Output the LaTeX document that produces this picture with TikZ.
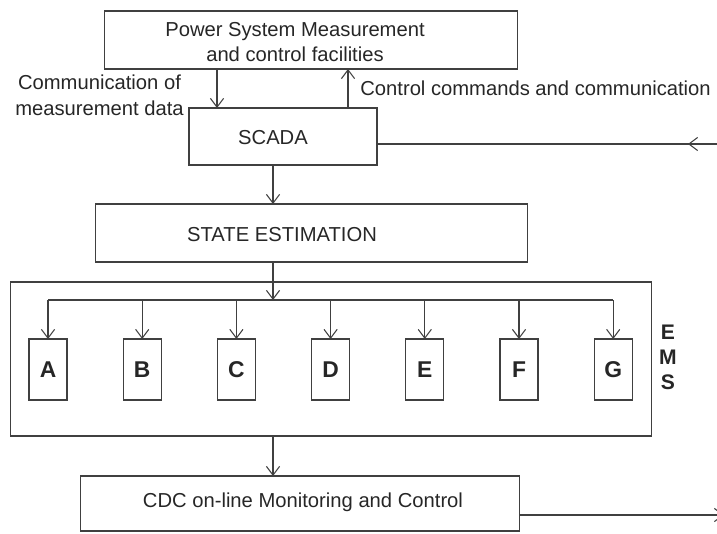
\documentclass[tikz,border=0pt]{standalone}
\usepackage{fontspec}
\setmainfont{Liberation Sans}
\usetikzlibrary{arrows.meta}
\tikzset{
  blk/.style={draw=black!75, line width=0.6pt, inner sep=0pt, outer sep=0pt},
  lbl/.style={inner sep=0pt, text=black!85, font=\fontsize{11.5}{14.5}\selectfont, align=center},
  wire/.style={draw=black!75, line width=0.6pt},
  arr/.style={wire, -{Straight Barb[length=5pt,width=7.5pt]}}
}
\newcommand{\cellbox}[5]{\node[blk,minimum width=#4cm,minimum height=#5cm] (#1) at (#2,#3) {};}
\newcommand{\boxlabel}[4]{\node[lbl] (#1) at (#2,#3) {#4};}

\begin{document}
\begin{tikzpicture}[x=0.02cm,y=-0.02cm]
\useasboundingbox (0,0) rectangle (717,534);
% blocks
\cellbox{top}{311}{40}{8.28}{1.16}
\cellbox{scada}{283}{136.5}{3.76}{1.14}
\cellbox{state}{311.5}{233}{8.66}{1.16}
\cellbox{ems}{331}{359}{12.84}{3.08}
\cellbox{cdc}{300}{503.5}{8.8}{1.1}
% block labels
\boxlabel{toptxt}{295}{42}{Power System Measurement\\and control facilities}
\boxlabel{scadatxt}{273}{138}{SCADA}
\boxlabel{statetxt}{282}{235}{STATE ESTIMATION}
\boxlabel{cdctxt}{303}{502}{CDC on-line Monitoring and Control}
% link labels
\boxlabel{meastxt}{99.5}{95.5}{Communication of\\measurement data}
\node[lbl, anchor=west] (ctrltxt) at (360,88) {Control commands and communication};
\node[lbl, font=\fontsize{12}{14.2}\selectfont\bfseries] (emstxt) at (668,357) {E\\M\\S};
% EMS functions
\foreach \l [count=\i from 0] in {A,B,C,D,E,F,G}
  \node[blk, minimum width=0.76cm, minimum height=1.22cm, text=black!85,
        font=\fontsize{13}{15}\selectfont\bfseries] (b\l) at ({48+94.2*\i},369.5) {\l};
% helper points
\coordinate (dn) at (217,0);
\coordinate (up) at (348,0);
\coordinate (spine) at (273,0);
\coordinate (bus) at (273,300);
\coordinate (fbin) at (730,144);
\coordinate (fbtip) at (688,144);
\coordinate (out) at (724,515);
% links
\draw[arr] (top.south -| dn) -- (scada.north -| dn);
\draw[arr] (scada.north -| up) -- (top.south -| up);
\draw[wire] (fbin) -- (scada.east |- fbin);
\draw[arr] (fbin) -- (fbtip);
\draw[arr] (scada.south -| spine) -- (state.north -| spine);
\draw[arr] (state.south -| spine) -- (bus);
\draw[wire] (bA |- bus) -- (bG |- bus);
\foreach \l in {A,...,G} \draw[arr] (b\l |- bus) -- (b\l.north);
\draw[arr] (ems.south -| spine) -- (cdc.north -| spine);
\draw[arr] (cdc.east |- out) -- (out);
\end{tikzpicture}
\end{document}
